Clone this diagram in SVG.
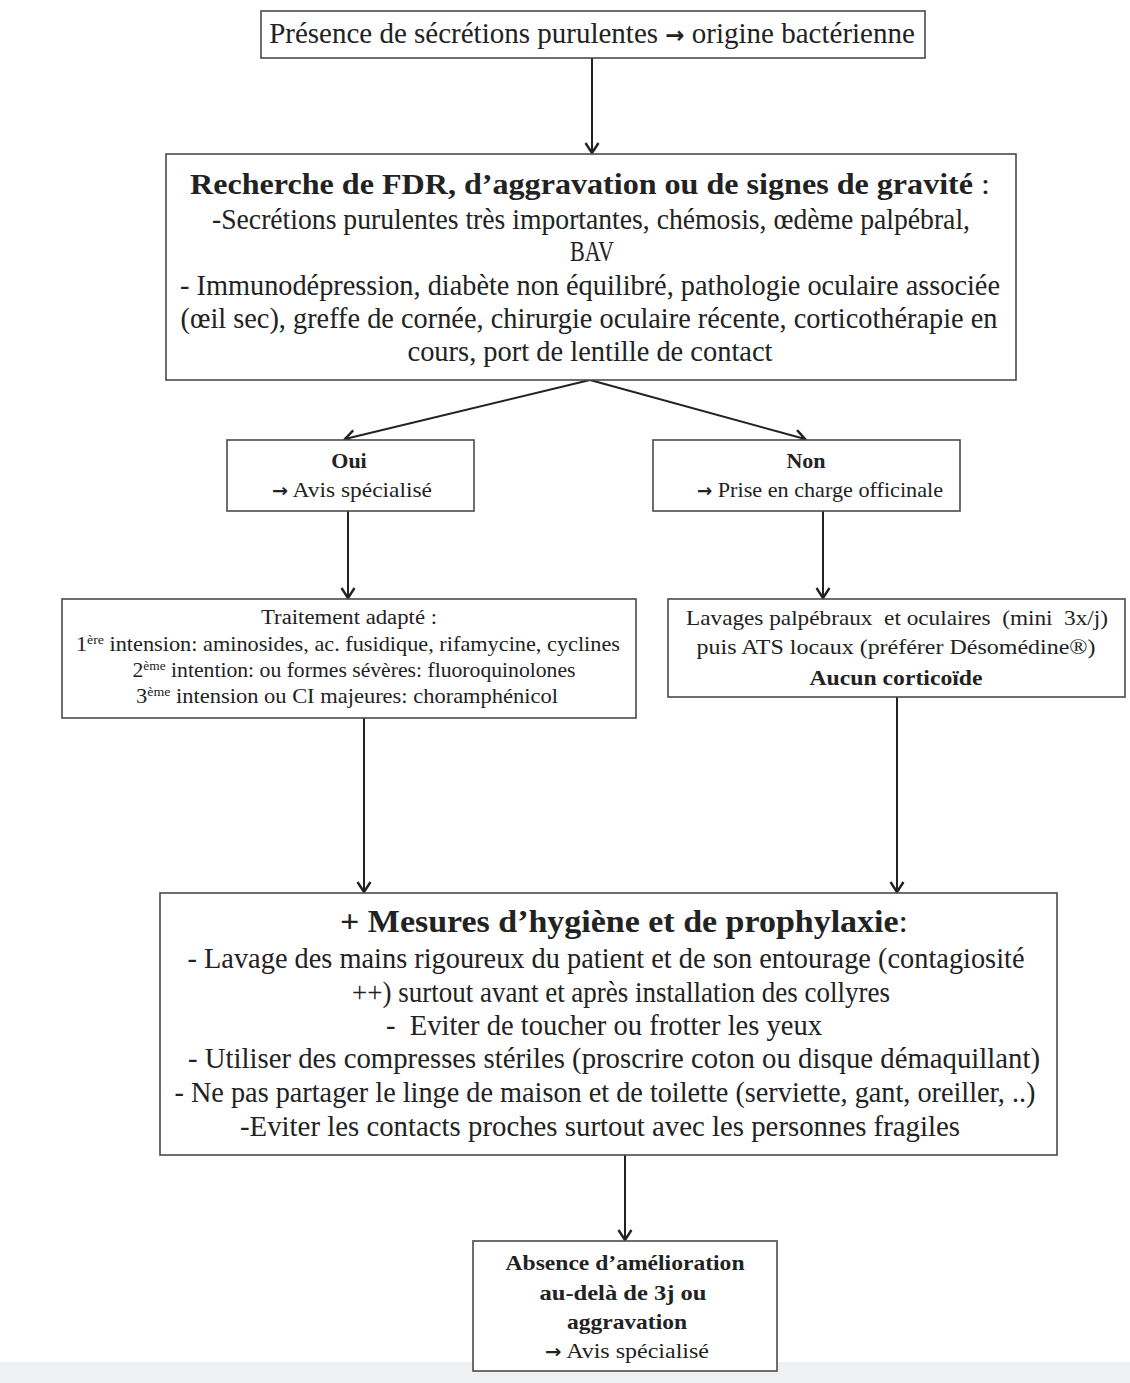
<svg xmlns="http://www.w3.org/2000/svg" width="1130" height="1383" viewBox="0 0 1130 1383">
  <defs>
    <marker id="chev" markerUnits="userSpaceOnUse" markerWidth="18" markerHeight="18" refX="13" refY="8" orient="auto">
      <path d="M3,1.5 L13,8 L3,14.5" fill="none" stroke="#222" stroke-width="2.4" stroke-linejoin="miter"/>
    </marker>
    <style>
      .box { fill: #fff; stroke: #4a4a4a; stroke-width: 1.6; }
      .t { font-family: "Liberation Serif", "Times New Roman", serif; fill: #222; text-anchor: middle; }
      .b { font-weight: bold; }
      .n { font-weight: normal; }
      .arr { font-family: "DejaVu Sans", sans-serif; font-weight: bold; }
      .sup { font-size: 13px; }
      .link { fill: none; stroke: #222; stroke-width: 2; marker-end: url(#chev); }
    </style>
  </defs>

  <rect x="0" y="0" width="1130" height="1383" fill="#fff"/>
  <rect x="0" y="1362" width="1130" height="21" fill="#eef0f1"/>

  <!-- connectors -->
  <g id="connectors">
    <line class="link" x1="592" y1="58" x2="592" y2="153"/>
    <line class="link" x1="590" y1="380" x2="345" y2="439"/>
    <line class="link" x1="590" y1="380" x2="805" y2="439"/>
    <line class="link" x1="348" y1="511" x2="348" y2="598"/>
    <line class="link" x1="823" y1="511" x2="823" y2="598"/>
    <line class="link" x1="364" y1="718" x2="364" y2="892"/>
    <line class="link" x1="897" y1="697" x2="897" y2="892"/>
    <line class="link" x1="625" y1="1155" x2="625" y2="1240"/>
  </g>

  <!-- origin -->
  <g id="origine">
    <rect class="box" x="261" y="11" width="664" height="47"/>
    <text class="t" x="592" y="43" font-size="29">Présence de sécrétions purulentes <tspan class="arr" font-size="23">→</tspan> origine bactérienne</text>
  </g>

  <!-- risk factors -->
  <g id="recherche">
    <rect class="box" x="166" y="154" width="850" height="226"/>
    <text class="t b" x="590" y="194" font-size="30" textLength="800" lengthAdjust="spacingAndGlyphs">Recherche de FDR, d’aggravation ou de signes de gravité<tspan class="n"> :</tspan></text>
    <text class="t" x="591" y="229" font-size="29" textLength="758" lengthAdjust="spacingAndGlyphs">-Secrétions purulentes très importantes, chémosis, œdème palpébral,</text>
    <text class="t" x="592" y="261" font-size="29" textLength="44" lengthAdjust="spacingAndGlyphs">BAV</text>
    <text class="t" x="590" y="295" font-size="29" textLength="820" lengthAdjust="spacingAndGlyphs">- Immunodépression, diabète non équilibré, pathologie oculaire associée</text>
    <text class="t" x="589" y="328" font-size="29" textLength="817" lengthAdjust="spacingAndGlyphs">(œil sec), greffe de cornée, chirurgie oculaire récente, corticothérapie en</text>
    <text class="t" x="590" y="361" font-size="29" textLength="365" lengthAdjust="spacingAndGlyphs">cours, port de lentille de contact</text>
  </g>

  <!-- yes -->
  <g id="oui">
    <rect class="box" x="227" y="440" width="247" height="71"/>
    <text class="t b" x="349" y="468" font-size="22">Oui</text>
    <text class="t" x="352" y="497" font-size="22" textLength="160" lengthAdjust="spacingAndGlyphs"><tspan class="arr" font-size="18">→</tspan> Avis spécialisé</text>
  </g>

  <!-- no -->
  <g id="non">
    <rect class="box" x="653" y="440" width="307" height="71"/>
    <text class="t b" x="806" y="468" font-size="22">Non</text>
    <text class="t" x="820" y="497" font-size="22" textLength="246" lengthAdjust="spacingAndGlyphs"><tspan class="arr" font-size="18">→</tspan> Prise en charge officinale</text>
  </g>

  <!-- treatment -->
  <g id="traitement">
    <rect class="box" x="62" y="599" width="574" height="119"/>
    <text class="t" x="349" y="624" font-size="20" textLength="176" lengthAdjust="spacingAndGlyphs">Traitement adapté :</text>
    <text class="t" x="348" y="651" font-size="21" textLength="544" lengthAdjust="spacingAndGlyphs">1<tspan class="sup" dy="-7">ère</tspan><tspan dy="7"> intension: aminosides, ac. fusidique, rifamycine, cyclines</tspan></text>
    <text class="t" x="354" y="677" font-size="21" textLength="443" lengthAdjust="spacingAndGlyphs">2<tspan class="sup" dy="-7">ème</tspan><tspan dy="7"> intention: ou formes sévères: fluoroquinolones</tspan></text>
    <text class="t" x="347" y="703" font-size="21" textLength="422" lengthAdjust="spacingAndGlyphs">3<tspan class="sup" dy="-7">ème</tspan><tspan dy="7"> intension ou CI majeures: choramphénicol</tspan></text>
  </g>

  <!-- eyelid washing -->
  <g id="lavages">
    <rect class="box" x="668" y="599" width="457" height="98"/>
    <text class="t" x="897" y="625" font-size="22" textLength="422" lengthAdjust="spacingAndGlyphs" xml:space="preserve">Lavages palpébraux  et oculaires  (mini  3x/j)</text>
    <text class="t" x="896" y="654" font-size="22" textLength="399" lengthAdjust="spacingAndGlyphs">puis ATS locaux (préférer Désomédine®)</text>
    <text class="t b" x="896" y="685" font-size="22" textLength="173" lengthAdjust="spacingAndGlyphs">Aucun corticoïde</text>
  </g>

  <!-- hygiene -->
  <g id="hygiene">
    <rect class="box" x="160" y="893" width="897" height="262"/>
    <text class="t b" x="624" y="932" font-size="32" textLength="568" lengthAdjust="spacingAndGlyphs">+ Mesures d’hygiène et de prophylaxie<tspan class="n">:</tspan></text>
    <text class="t" x="606" y="968" font-size="29" textLength="837" lengthAdjust="spacingAndGlyphs">- Lavage des mains rigoureux du patient et de son entourage (contagiosité</text>
    <text class="t" x="621" y="1002" font-size="29" textLength="538" lengthAdjust="spacingAndGlyphs">++) surtout avant et après installation des collyres</text>
    <text class="t" x="604" y="1035" font-size="29" textLength="436" lengthAdjust="spacingAndGlyphs" xml:space="preserve">-  Eviter de toucher ou frotter les yeux</text>
    <text class="t" x="614" y="1068" font-size="29" textLength="852" lengthAdjust="spacingAndGlyphs">- Utiliser des compresses stériles (proscrire coton ou disque démaquillant)</text>
    <text class="t" x="605" y="1102" font-size="29" textLength="861" lengthAdjust="spacingAndGlyphs">- Ne pas partager le linge de maison et de toilette (serviette, gant, oreiller, ..)</text>
    <text class="t" x="600" y="1136" font-size="29" textLength="720" lengthAdjust="spacingAndGlyphs">-Eviter les contacts proches surtout avec les personnes fragiles</text>
  </g>

  <!-- no improvement -->
  <g id="absence">
    <rect class="box" x="473" y="1241" width="304" height="130"/>
    <text class="t b" x="625" y="1270" font-size="22" textLength="239" lengthAdjust="spacingAndGlyphs">Absence d’amélioration</text>
    <text class="t b" x="623" y="1300" font-size="22" textLength="167" lengthAdjust="spacingAndGlyphs">au-delà de 3j ou</text>
    <text class="t b" x="627" y="1329" font-size="22" textLength="120" lengthAdjust="spacingAndGlyphs">aggravation</text>
    <text class="t" x="627" y="1358" font-size="22" textLength="164" lengthAdjust="spacingAndGlyphs"><tspan class="arr" font-size="18">→</tspan> Avis spécialisé</text>
  </g>
</svg>
